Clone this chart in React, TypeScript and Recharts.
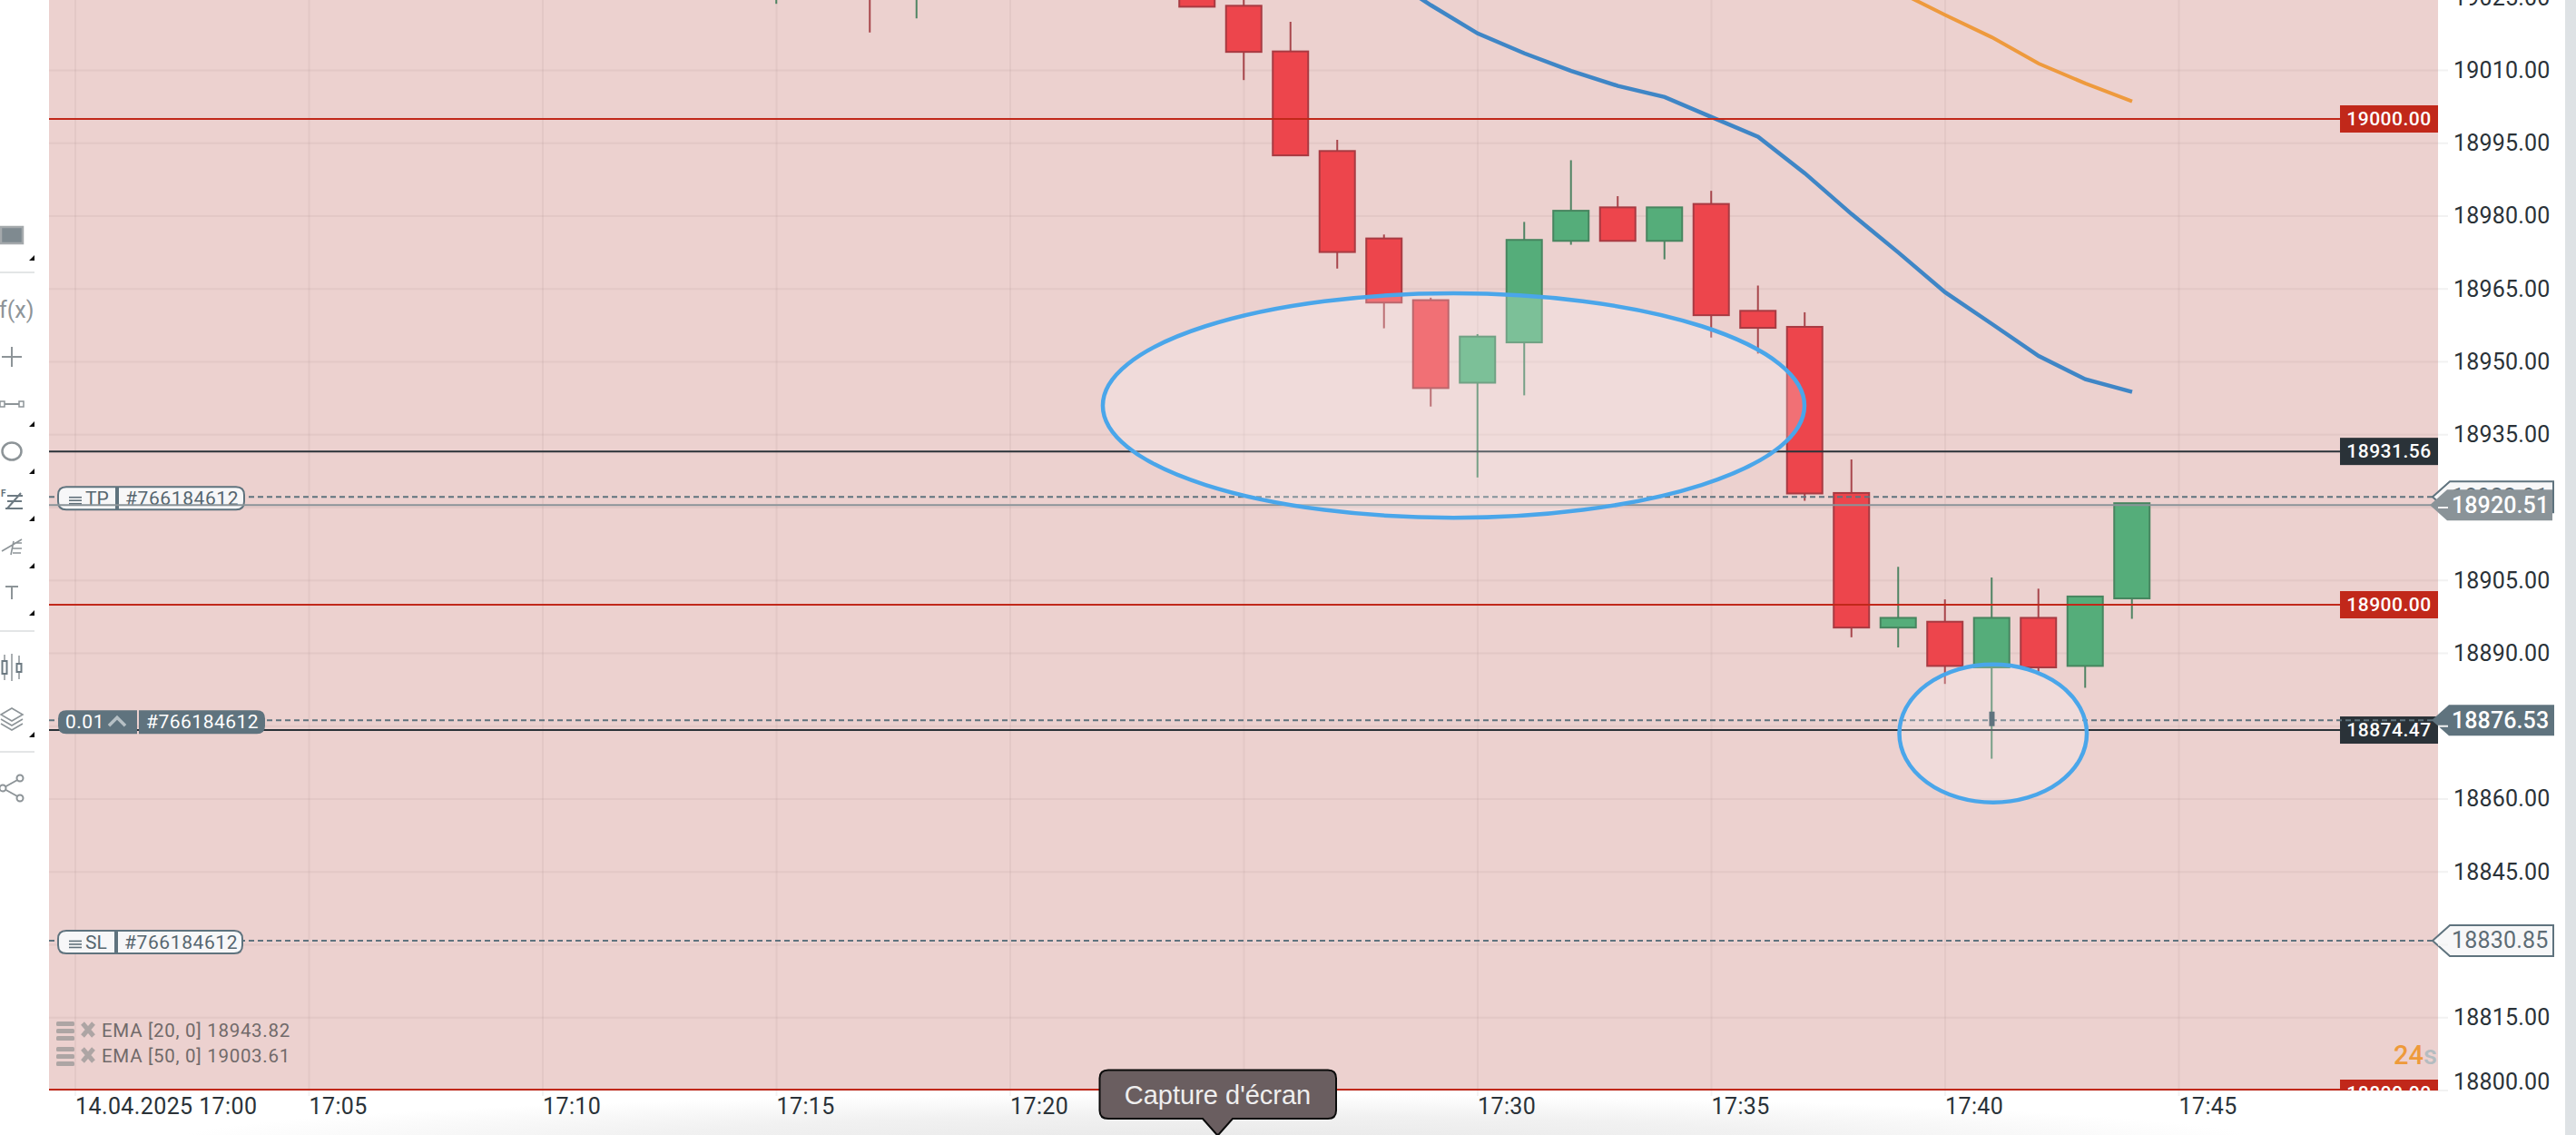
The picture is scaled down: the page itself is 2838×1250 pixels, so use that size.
import React from 'react';
import {
  ComposedChart,
  Bar,
  Line,
  XAxis,
  YAxis,
  CartesianGrid,
  ReferenceLine,
  ReferenceArea,
  ReferenceDot,
} from 'recharts';

const FONT = 'Roboto, sans-serif';
const RED = '#c1281a';
const DARK = '#2a3238';
const SLATE = '#5f737e';
const GREY = '#8a9398';

// minutes after 17:00
const MINUTES = [15, 17, 18, 24, 25, 26, 27, 28, 29, 30, 31, 32, 33, 34, 35, 36, 37, 38, 39, 40, 41, 42, 43, 44];
const OPENS = [19031, 19031.5, 19031, 19030, 19023.3, 19013.9, 18993.4, 18975.4, 18962.7, 18945.7, 18954, 18974.9, 18981.8, 18974.9, 18982.5, 18960.5, 18957.2, 18923, 18895.3, 18896.5, 18887.1, 18897.3, 18887.4, 18901.3];
const CLOSES = [19031.5, 19031, 19031.5, 19023.1, 19013.8, 18992.5, 18972.6, 18962.2, 18944.6, 18955.2, 18975.1, 18981.1, 18974.9, 18981.8, 18959.6, 18957, 18922.9, 18895.3, 18897.3, 18887.4, 18897.3, 18887.1, 18901.7, 18920.9];
const HIGHS = [19031.8, 19031.8, 19031.8, 19031.5, 19028, 19020, 18995.7, 18976.2, 18963.2, 18955.7, 18978.8, 18991.5, 18984.1, 18981.8, 18985.2, 18965.7, 18960.2, 18929.9, 18907.8, 18901.1, 18905.6, 18903.3, 18901.7, 18920.9];
const LOWS = [19023.7, 19017.8, 19020.7, 19023.1, 19008, 18992.5, 18969.2, 18956.9, 18940.8, 18926.2, 18943.1, 18974.1, 18974.9, 18971.1, 18955, 18951.7, 18921.4, 18893.3, 18891.2, 18883.7, 18868.3, 18886.2, 18882.9, 18897.1];
const EMA20 = [null, null, null, null, null, null, null, 19029.7, 19023.4, 19017.6, 19013.5, 19009.9, 19006.8, 19004.5, 19000.4, 18996.3, 18988.8, 18980.4, 18972.5, 18964.3, 18957.8, 18951.2, 18946.4, 18943.82];
const EMA50 = [null, null, null, null, null, null, null, null, null, null, null, null, null, null, null, null, null, null, 19026.2, 19021.4, 19016.8, 19011.4, 19007.3, 19003.61];

const X_TICKS = [0, 5, 10, 15, 20, 25, 30, 35, 40, 45];
const X_LABELS = ['14.04.2025 17:00', '17:05', '17:10', '17:15', '17:20', '17:25', '17:30', '17:35', '17:40', '17:45'];
const Y_TICKS = [18800, 18815, 18830, 18845, 18860, 18875, 18890, 18905, 18920, 18935, 18950, 18965, 18980, 18995, 19010, 19025];
// these sit under the order tags in the reference
const Y_HIDDEN = [18830, 18875, 18920];

const rows = MINUTES.map((minute, i) => ({
  minute,
  open: OPENS[i],
  close: CLOSES[i],
  high: HIGHS[i],
  low: LOWS[i],
  ema20: EMA20[i],
  ema50: EMA50[i],
}));

function Candle({ x, y, width, height, payload }: any) {
  const { open, close, high, low } = payload;
  const k = height / (high - low);
  const up = close >= open;
  const top = y + (high - Math.max(open, close)) * k;
  const bodyH = Math.abs(open - close) * k;
  const cx = x + width / 2;
  return (
    <g>
      <line x1={cx} x2={cx} y1={y} y2={y + height} stroke={up ? '#4f8463' : '#a8464c'} strokeWidth={2} />
      <rect
        x={x + 1}
        y={top}
        width={width - 2}
        height={bodyH}
        fill={up ? '#55ad7a' : '#ed454c'}
        stroke={up ? '#47855f' : '#a83a42'}
        strokeWidth={2}
      />
    </g>
  );
}

function XTick({ x, y, payload }: any) {
  return (
    <text x={x} y={y + 20} fontFamily={FONT} fontSize={25} letterSpacing={0.4} fill={DARK}>
      {X_LABELS[X_TICKS.indexOf(payload.value)]}
    </text>
  );
}

function YTick({ x, y, payload }: any) {
  if (Y_HIDDEN.includes(payload.value)) return null;
  // the lowest label is pushed up to stay above the time axis
  const lift = payload.value === 18800 ? -10 : 0;
  return (
    <text x={x} y={y + lift} dominantBaseline="central" fontFamily={FONT} fontSize={25} letterSpacing={0.2} fill={DARK}>
      {payload.value.toFixed(2)}
    </text>
  );
}

// the reference line hands over its ends right-to-left
function ends({ x1, x2 }: any) {
  return [Math.min(x1, x2), Math.max(x1, x2)];
}

// horizontal order line with the small coloured price box on the plot's right edge
function boxLine(color: string, label: string) {
  return (p: any) => {
    const [left, right] = ends(p);
    const y = p.y1;
    return (
      <g>
        <line x1={left} x2={right - 100} y1={y} y2={y} stroke={color} strokeWidth={2} />
        <rect x={right - 108} y={y - 15} width={108} height={30} fill={color} />
        <text x={right - 54} y={y} textAnchor="middle" dominantBaseline="central" fontFamily={FONT} fontWeight={500} fontSize={21} letterSpacing={0.5} fill="#fff">
          {label}
        </text>
      </g>
    );
  };
}

function bottomBoxLine(color: string, label: string) {
  return (p: any) => {
    const [left, right] = ends(p);
    const y = p.y1;
    return (
      <g>
        <line x1={left} x2={right} y1={y - 1} y2={y - 1} stroke={color} strokeWidth={2} />
        <svg x={right - 108} y={y - 12} width={108} height={12}>
          <rect width={108} height={12} fill={color} />
          <text x={54} y={15} textAnchor="middle" dominantBaseline="central" fontFamily={FONT} fontWeight={500} fontSize={21} letterSpacing={0.5} fill="#fff">
            {label}
          </text>
        </svg>
      </g>
    );
  };
}

function arrowPath(tip: number, y: number, half: number, right: number) {
  return `M${tip} ${y} L${tip + 19} ${y - half} H${right} V${y + half} H${tip + 19} Z`;
}

function leftRound(x: number, y: number, w: number, h: number) {
  return `M${x + w} ${y} H${x + 9} Q${x} ${y} ${x} ${y + 9} V${y + h - 9} Q${x} ${y + h} ${x + 9} ${y + h} H${x + w} Z`;
}

function rightRound(x: number, y: number, w: number, h: number) {
  return `M${x} ${y} H${x + w - 9} Q${x + w} ${y} ${x + w} ${y + 9} V${y + h - 9} Q${x + w} ${y + h} ${x + w - 9} ${y + h} H${x} Z`;
}

function Hamburger({ y }: { y: number }) {
  return (
    <g stroke="#5f6f79" strokeWidth={1.6}>
      <line x1={76} x2={90} y1={y - 3.5} y2={y - 3.5} />
      <line x1={76} x2={90} y1={y} y2={y} />
      <line x1={76} x2={90} y1={y + 3.5} y2={y + 3.5} />
    </g>
  );
}

// dashed order line: outlined tag left, arrow tag right
function outlineOrder(kind: string, price: string, split: number, second: number) {
  return (p: any) => {
    const [left, right] = ends(p);
    const y = p.y1;
    return (
      <g fontFamily={FONT} fontSize={21}>
        <line x1={left} x2={right - 6} y1={y} y2={y} stroke={SLATE} strokeWidth={2} strokeDasharray="6 4" />
        <path d={leftRound(64, y - 11, split - 64, 25)} fill="#f7f7f8" stroke={SLATE} strokeWidth={2} />
        <path d={rightRound(split + 2, y - 11, second - split - 2, 25)} fill="#f7f7f8" stroke={SLATE} strokeWidth={2} />
        <Hamburger y={y + 4} />
        <text x={94} y={y + 2} dominantBaseline="central" fill="#56666f">{kind}</text>
        <text x={split + 10} y={y + 2} dominantBaseline="central" letterSpacing={0.6} fill="#56666f">#766184612</text>
        <path d={arrowPath(right - 6, y, 17, right + 127)} fill="#f7f7f8" stroke={SLATE} strokeWidth={2} />
        <text x={right + 15} y={y} dominantBaseline="central" fontSize={25} letterSpacing={0.2} fill="#5d6c75">{price}</text>
      </g>
    );
  };
}

function positionLine(p: any) {
  const [left, right] = ends(p);
  const y = p.y1;
  return (
    <g fontFamily={FONT}>
      <line x1={left} x2={right} y1={y} y2={y} stroke={GREY} strokeWidth={2} />
      <path d={arrowPath(right - 9, y, 17, right + 126)} fill={GREY} />
      <text x={right + 15} y={y} dominantBaseline="central" fontWeight={500} fontSize={25} letterSpacing={0.1} fill="#fff">18920.51</text>
    </g>
  );
}

function entryLine(p: any) {
  const [left, right] = ends(p);
  const y = p.y1;
  return (
    <g fontFamily={FONT} fontSize={21} fill="#fff">
      <line x1={left} x2={right - 6} y1={y} y2={y} stroke={SLATE} strokeWidth={2} strokeDasharray="6 4" />
      <path d={leftRound(64, y - 11, 87, 26)} fill={SLATE} />
      <path d={rightRound(153, y - 11, 139, 26)} fill={SLATE} />
      <text x={72} y={y + 2} dominantBaseline="central" letterSpacing={0.5}>0.01</text>
      <path d={`M120 ${y + 6} L129 ${y - 3} L138 ${y + 6}`} fill="none" stroke="#b6c0c5" strokeWidth={3.5} />
      <text x={161} y={y + 2} dominantBaseline="central" letterSpacing={0.5}>#766184612</text>
      <path d={arrowPath(right - 7, y, 17, right + 128)} fill={SLATE} />
      <text x={right + 15} y={y} dominantBaseline="central" fontWeight={500} fontSize={25} letterSpacing={0.1}>18876.53</text>
    </g>
  );
}

function Ring({ x, y, width, height }: any) {
  return (
    <ellipse
      cx={x + width / 2}
      cy={y + height / 2}
      rx={width / 2}
      ry={height / 2}
      fill="rgba(255,255,255,0.23)"
      stroke="#4aa6ea"
      strokeWidth={4.5}
    />
  );
}

function EntryMark({ cx, cy }: any) {
  return <rect x={cx - 3} y={cy - 8} width={6} height={16} fill={SLATE} />;
}

function Triangle({ y }: { y: number }) {
  return <path d={`M38 ${y - 3} V${y + 3} H32 Z`} fill="#111" />;
}

function Toolbar() {
  const ink = '#8d9498';
  return (
    <svg width={54} height={1250} style={{ position: 'absolute', left: 0, top: 0 }}>
      <rect x={1} y={250} width={24} height={18} fill="#7f8a90" stroke="#a4a9ac" strokeWidth={2.5} />
      {[284, 467, 519, 571, 623, 675, 809].map((y) => (
        <Triangle key={y} y={y} />
      ))}
      {[300, 695, 828].map((y) => (
        <line key={y} x1={0} x2={38} y1={y} y2={y} stroke="#e3e5e6" strokeWidth={2} />
      ))}
      <text x={-1} y={350} fontFamily={FONT} fontSize={25} fill={ink}>f(x)</text>
      <path d="M2 393 H24 M13 382 V404" stroke={ink} strokeWidth={2} />
      <path d="M3 445 H24" stroke={ink} strokeWidth={2} />
      <rect x={0} y={442} width={5} height={6} fill="#fff" stroke={ink} strokeWidth={1.5} />
      <rect x={21} y={442} width={5} height={6} fill="#fff" stroke={ink} strokeWidth={1.5} />
      <ellipse cx={13} cy={497} rx={10.5} ry={9.5} fill="none" stroke={ink} strokeWidth={2.5} />
      <text x={1} y={547} fontFamily={FONT} fontWeight={700} fontSize={10} fill="#5f6f79">F</text>
      <path d="M8 546 H25 M6 560 H25 M8 560 L23 543 M8 552 H24" stroke="#6d7a82" strokeWidth={2} fill="none" />
      <path d="M2 607 L14 600 L24 594 M12 611 L15 596 M14 604 H24 M14 609 H23 M16 598 H24" stroke={ink} strokeWidth={1.6} fill="none" />
      <path d="M6 646 H20 M13 646 V660" stroke={ink} strokeWidth={2} />
      <path d="M5 721 V749 M21 722 V748 M13 720 V750" stroke={ink} strokeWidth={1.5} />
      <rect x={2.5} y={728} width={5} height={14} fill="#fff" stroke="#6d7a82" strokeWidth={2} />
      <rect x={18.5} y={731} width={5} height={9} fill="#fff" stroke="#6d7a82" strokeWidth={2} />
      <path d="M1 787 L13 780 L25 787 L13 794 Z M1 792 L13 799 L25 792 M1 797 L13 804 L25 797" fill="none" stroke={ink} strokeWidth={1.6} />
      <path d="M3 868 L21 858 M3 868 L21 878" stroke={ink} strokeWidth={2} />
      <circle cx={3} cy={868} r={3.5} fill="#fff" stroke={ink} strokeWidth={2} />
      <circle cx={22} cy={857} r={3.5} fill="#fff" stroke={ink} strokeWidth={2} />
      <circle cx={22} cy={879} r={3.5} fill="#fff" stroke={ink} strokeWidth={2} />
    </svg>
  );
}

function EmaLegend() {
  const rowsY = [1135, 1163];
  const labels = ['EMA [20, 0] 18943.82', 'EMA [50, 0] 19003.61'];
  return (
    <svg width={400} height={70} viewBox="0 1110 400 70" style={{ position: 'absolute', left: 0, top: 1110 }}>
      {rowsY.map((y, i) => (
        <g key={y}>
          {[-10, -2, 6].map((d) => (
            <rect key={d} x={62} y={y + d} width={20} height={5} rx={1.5} fill="#ada5a4" />
          ))}
          <path d={`M91 ${y - 8} L103 ${y + 6} M103 ${y - 8} L91 ${y + 6}`} stroke="#ada5a4" strokeWidth={5} />
          <text x={112} y={y} dominantBaseline="central" fontFamily={FONT} fontSize={20.5} letterSpacing={0.7} fill="#716a6a">
            {labels[i]}
          </text>
        </g>
      ))}
    </svg>
  );
}

function ScreenshotTip() {
  return (
    <svg width={280} height={80} style={{ position: 'absolute', left: 1200, top: 1172 }}>
      <path
        d="M21 6.5 H263 Q272 6.5 272 15.5 V51 Q272 60 263 60 H158 L143 77 Q141.5 78 140 77 L125 60 H21 Q11.5 60 11.5 51 V15.5 Q11.5 6.5 21 6.5 Z"
        fill="#6a5e60"
        stroke="#0b0b0b"
        strokeWidth={2}
      />
      <text x={141.5} y={34} textAnchor="middle" dominantBaseline="central" fontFamily="'Liberation Sans', sans-serif" fontSize={29} fill="#efeeee">
        Capture d'écran
      </text>
    </svg>
  );
}

export default function App() {
  return (
    <div style={{ position: 'absolute', left: 0, top: 0, width: 2838, height: 1250, overflow: 'hidden', background: '#fff' }}>
      <div
        style={{
          position: 'absolute',
          left: 0,
          top: 1201,
          width: 2838,
          height: 49,
          background: 'radial-gradient(ellipse 1150px 52px at 1340px 56px, #e8e8e8 0%, #f1f1f1 55%, #ffffff 100%)',
        }}
      />
      <div style={{ position: 'absolute', top: -40, left: 0 }}>
        <ComposedChart width={2838} height={1290} data={rows} margin={{ top: 0, right: 0, bottom: 0, left: 54 }} barSize={41}>
          <CartesianGrid
            fill="#ecd1cf"
            stroke="rgba(130,100,100,0.08)"
            strokeWidth={2}
            horizontalValues={Y_TICKS}
            verticalValues={X_TICKS}
          />
          <XAxis
            dataKey="minute"
            type="number"
            domain={[-0.563, 50.544]}
            allowDataOverflow
            ticks={X_TICKS}
            height={49}
            axisLine={false}
            tickSize={6}
            tickMargin={0}
            tickLine={{ stroke: 'rgba(130,100,100,0.08)', strokeWidth: 2 }}
            tick={<XTick />}
            interval={0}
          />
          <YAxis
            orientation="right"
            type="number"
            domain={[18800, 19031.96]}
            allowDataOverflow
            ticks={Y_TICKS}
            width={152}
            axisLine={false}
            tickSize={11}
            tickMargin={6}
            tickLine={{ stroke: '#f2f2f2', strokeWidth: 2 }}
            tick={<YTick />}
            interval={0}
          />
          <Bar dataKey={(d: any) => [d.low, d.high]} shape={<Candle />} isAnimationActive={false} />
          <Line dataKey="ema20" stroke="#3f86c6" strokeWidth={4.5} dot={false} isAnimationActive={false} />
          <Line dataKey="ema50" stroke="#ee9a3d" strokeWidth={4} dot={false} isAnimationActive={false} />
          <ReferenceLine y={19000} shape={boxLine(RED, '19000.00')} />
          <ReferenceLine y={18931.56} shape={boxLine(DARK, '18931.56')} />
          <ReferenceLine y={18900} shape={boxLine(RED, '18900.00')} />
          <ReferenceLine y={18800} shape={bottomBoxLine(RED, '18800.00')} />
          <ReferenceLine y={18874.2} shape={boxLine(DARK, '18874.47')} />
          <ReferenceLine y={18922.2} shape={outlineOrder('TP', '18922.91', 128, 269)} />
          <ReferenceLine y={18920.51} shape={positionLine} />
          <ReferenceLine y={18876.2} shape={entryLine} />
          <ReferenceLine y={18830.85} shape={outlineOrder('SL', '18830.85', 127, 267)} />
          <ReferenceDot x={41} y={18876.5} shape={<EntryMark />} ifOverflow="visible" />
          <ReferenceArea x1={21.98} x2={36.99} y1={18917.9} y2={18964.1} shape={<Ring />} ifOverflow="visible" zIndex={500} />
          <ReferenceArea x1={39.02} x2={43.03} y1={18859.3} y2={18887.7} shape={<Ring />} ifOverflow="visible" zIndex={500} />
        </ComposedChart>
      </div>
      <Toolbar />
      <EmaLegend />
      <svg width={60} height={40} style={{ position: 'absolute', left: 2632, top: 1142 }}>
        <text x={5} y={20} dominantBaseline="central" fontFamily={FONT} fontWeight={500} fontSize={29}>
          <tspan fill="#ee9a3a">24</tspan>
          <tspan fill="#b4bcc0">s</tspan>
        </text>
      </svg>
      <ScreenshotTip />
      <div style={{ position: 'absolute', left: 2826, top: 0, width: 12, height: 1250, background: '#dee2e5' }} />
    </div>
  );
}
